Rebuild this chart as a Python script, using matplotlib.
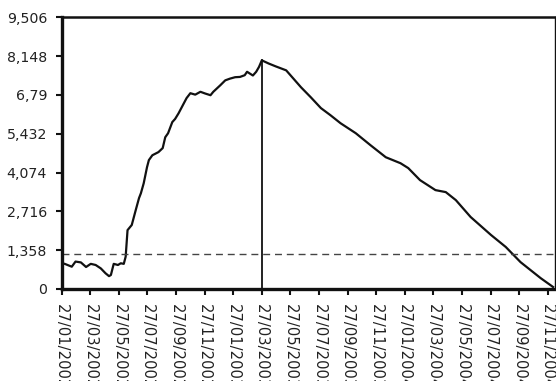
import matplotlib
matplotlib.use("Agg")
import matplotlib.pyplot as plt
import pandas as pd

# Daily series (sampled) of the position value
dates = [
    "2002-01-27", "2002-02-03", "2002-02-09", "2002-02-18", "2002-02-26", "2002-03-07",
    "2002-03-18", "2002-03-28", "2002-04-08", "2002-04-19", "2002-04-29", "2002-05-06",
    "2002-05-10", "2002-05-16", "2002-05-25", "2002-05-31", "2002-06-07", "2002-06-11",
    "2002-06-15", "2002-06-24", "2002-07-02", "2002-07-09", "2002-07-13", "2002-07-19",
    "2002-07-26", "2002-07-30", "2002-08-07", "2002-08-20", "2002-08-29", "2002-09-04",
    "2002-09-10", "2002-09-19", "2002-09-25", "2002-10-02", "2002-10-10", "2002-10-19",
    "2002-10-27", "2002-11-07", "2002-11-18", "2002-11-28", "2002-12-09", "2002-12-15",
    "2002-12-30", "2003-01-10", "2003-01-20", "2003-01-31", "2003-02-11", "2003-02-21",
    "2003-02-26", "2003-03-08", "2003-03-15", "2003-03-21", "2003-03-27", "2003-04-11",
    "2003-04-26", "2003-05-18", "2003-06-19", "2003-07-10", "2003-07-31", "2003-08-21",
    "2003-09-12", "2003-10-14", "2003-11-15", "2003-12-17", "2004-01-18", "2004-02-04",
    "2004-02-29", "2004-04-01", "2004-04-23", "2004-05-14", "2004-06-15", "2004-07-28",
    "2004-08-29", "2004-09-30", "2004-11-12", "2004-12-08",
]
values = [
    900, 880, 840, 780, 960, 930,
    770, 880, 840, 720, 550, 450,
    490, 880, 840, 900, 880, 1130,
    2060, 2240, 2760, 3180, 3350, 3700,
    4260, 4510, 4680, 4790, 4930, 5310,
    5450, 5840, 5950, 6150, 6400, 6680,
    6850, 6800, 6900, 6840, 6780, 6900,
    7130, 7300, 7360, 7410, 7420, 7480,
    7600, 7470, 7600, 7770, 8000, 7890,
    7790, 7650, 7060, 6700, 6330, 6080,
    5800, 5450, 5030, 4610, 4400, 4230,
    3810, 3460, 3390, 3110, 2520, 1890,
    1470, 940, 380, 70,
]

marker_date = "2003-03-27"
marker_value = 8000
threshold = 1220

y_ticks = [0, 1358, 2716, 4074, 5432, 6790, 8148, 9506]
y_tick_labels = ["0", "1,358", "2,716", "4,074", "5,432", "6,79", "8,148", "9,506"]
x_tick_labels = [
    "27/01/2002", "27/03/2002", "27/05/2002", "27/07/2002", "27/09/2002", "27/11/2002",
    "27/01/2003", "27/03/2003", "27/05/2003", "27/07/2003", "27/09/2003", "27/11/2003",
    "27/01/2004", "27/03/2004", "27/05/2004", "27/07/2004", "27/09/2004", "27/11/2004",
]

start = pd.Timestamp("2002-01-27")


def month_pos(d):
    d = pd.Timestamp(d)
    return (d.year - start.year) * 12 + (d.month - start.month) + (d.day - start.day) / 30.44


x = [month_pos(d) for d in dates]
xticks = [month_pos(pd.to_datetime(s, format="%d/%m/%Y")) for s in x_tick_labels]

plt.rcParams["font.family"] = ["DejaVu Sans"]

fig = plt.figure(figsize=(5.56, 3.81), dpi=100)
ax = fig.add_axes([61.7 / 556, 1 - 289 / 381, (555 - 61.7) / 556, (289 - 17.3) / 381])

ax.plot(x, values, color="#111111", lw=1.6, solid_joinstyle="round")
ax.axhline(threshold, color="#444444", lw=1.0, dashes=(5, 3.5))
mx = month_pos(marker_date)
ax.plot([mx, mx], [0, marker_value], color="#111111", lw=1.3)

ax.set_xlim(0, 34.51)
ax.set_ylim(0, 9506)

ax.set_yticks(y_ticks)
ax.set_yticklabels(y_tick_labels)
ax.set_xticks(xticks)
ax.set_xticklabels(x_tick_labels, rotation=-90, va="top", ha="center", fontsize=10.6)

ax.tick_params(axis="both", direction="out", length=4.5, width=1.5, color="#111111",
               labelcolor="#222222")
ax.tick_params(axis="y", pad=6, labelsize=10.2)
ax.tick_params(axis="x", pad=6)

for side, w in (("left", 2.4), ("bottom", 2.4), ("top", 1.8), ("right", 1.0)):
    ax.spines[side].set_linewidth(w)
    ax.spines[side].set_color("#111111")

fig.savefig("out.png", dpi=100)
